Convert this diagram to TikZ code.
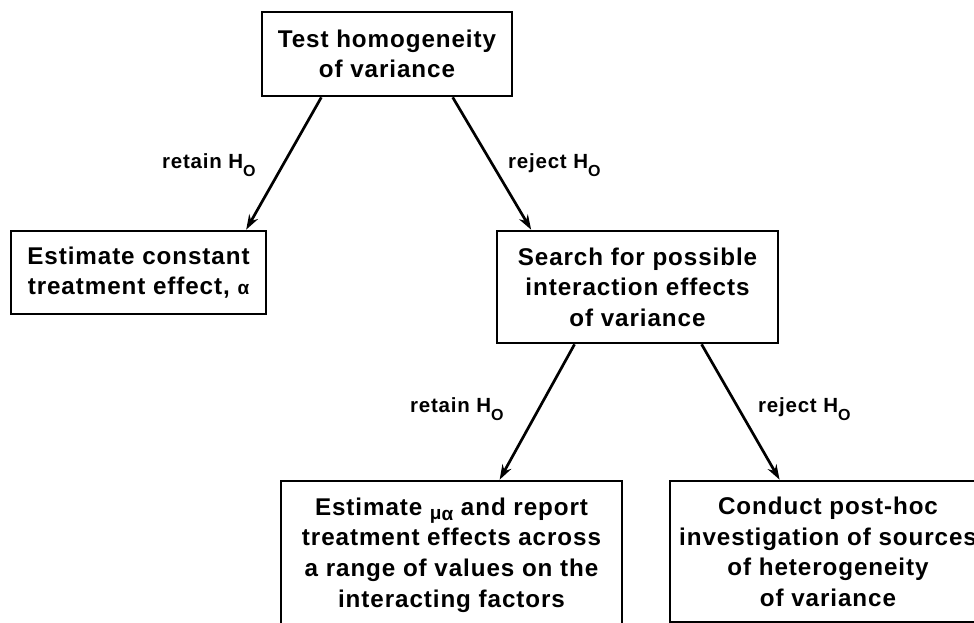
\documentclass[tikz,border=0pt]{standalone}
\usepackage{fontspec}
\newfontfamily\diafont{Liberation Sans}[LetterSpace=3.8]
\usetikzlibrary{calc,arrows.meta}
\newcommand\HzeroSub{H\raisebox{-8pt}{\fontsize{16}{16}\selectfont O}}
\tikzset{
  box/.style={draw=black, line width=2.6pt, align=center, inner sep=0pt,
    font=\diafont\bfseries\fontsize{24.2}{30.6}\selectfont},
  lab/.style={inner sep=0pt, anchor=base west,
    font=\diafont\bfseries\fontsize{20.5}{22}\selectfont},
  arr/.style={line width=2.7pt, -{Stealth[length=15pt,width=10pt]}}
}
\begin{document}
\begin{tikzpicture}[x=1pt,y=-1pt]
\useasboundingbox (0,0) rectangle (974,623);
\clip (0,0) rectangle (974,623);
\fill[white] (0,0) rectangle (974,623);
\node[box, minimum width=250pt, minimum height=84pt] (top) at (387,54)
  {Test homogeneity\\of variance};
\node[box, minimum width=255pt, minimum height=83pt] (left) at (138.5,272.5)
  {Estimate constant\\treatment effect, {\fontsize{19}{19}\selectfont α}};
\node[box, minimum width=281pt, minimum height=112pt] (search) at (637.5,287)
  {Search for possible\\interaction effects\\of variance};
\node[box, minimum width=341pt, minimum height=148pt] (bl) at (451.5,555)
  {Estimate \raisebox{-4pt}{\fontsize{19}{19}\selectfont μ\raisebox{-1.5pt}{α}} and report\\treatment effects across\\a range of values on the\\interacting factors};
\node[box, minimum width=316pt, minimum height=141.5pt] (br) at (828,551.75)
  {Conduct post-hoc\\investigation of sources\\of heterogeneity\\of variance};
\draw[arr] ($(top.south west)!0.24!(top.south east)$) -- ($(left.north west)!0.918!(left.north east)$);
\draw[arr] ($(top.south west)!0.76!(top.south east)$) -- ($(search.north west)!0.125!(search.north east)$);
\draw[arr] ($(search.south west)!0.278!(search.south east)$) -- ($(bl.north west)!0.64!(bl.north east)$);
\draw[arr] ($(search.south west)!0.726!(search.south east)$) -- ($(br.north west)!0.348!(br.north east)$);
\node[lab] (r1) at (162,168) {retain \HzeroSub};
\node[lab] (j1) at (508,168) {reject \HzeroSub};
\node[lab] (r2) at (410,412) {retain \HzeroSub};
\node[lab] (j2) at (758,412) {reject \HzeroSub};
\end{tikzpicture}
\end{document}
